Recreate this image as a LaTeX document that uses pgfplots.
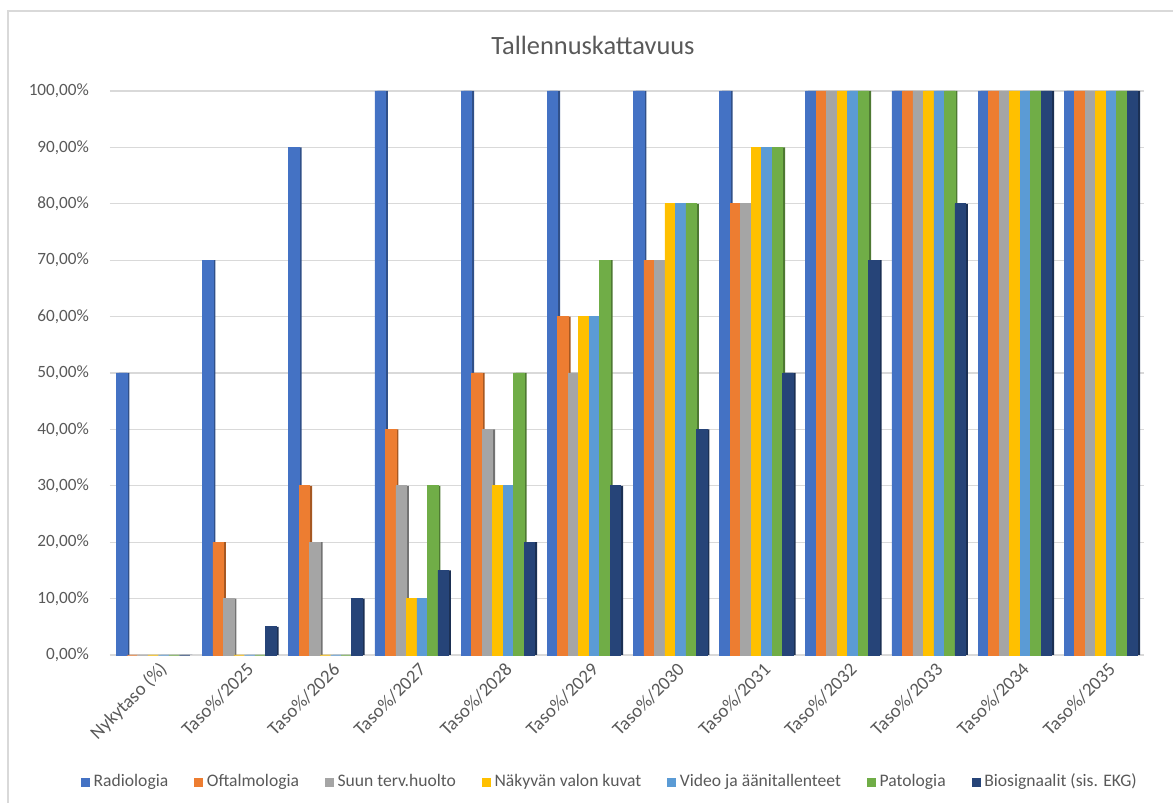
\documentclass[border=0pt]{standalone}
\usepackage{fontspec}
\setmainfont{Carlito}
\usepackage{pgfplots}
\usepackage{pgfplotstable}
\pgfplotsset{compat=1.18}
\definecolor{cRad}{HTML}{4472C4}
\definecolor{cOft}{HTML}{ED7D31}
\definecolor{cSuu}{HTML}{A5A5A5}
\definecolor{cNak}{HTML}{FFC000}
\definecolor{cVid}{HTML}{5B9BD5}
\definecolor{cPat}{HTML}{70AD47}
\definecolor{cBio}{HTML}{264478}
\definecolor{txt}{HTML}{595959}
\definecolor{grd}{HTML}{D9D9D9}
\pgfplotstableread{
x rad oft suun nak vid pat bio
0 50 0 0 0 0 0 0
1 70 20 10 0 0 0 5
2 90 30 20 0 0 0 10
3 100 40 30 10 10 30 15
4 100 50 40 30 30 50 20
5 100 60 50 60 60 70 30
6 100 70 70 80 80 80 40
7 100 80 80 90 90 90 50
8 100 100 100 100 100 100 70
9 100 100 100 100 100 100 80
10 100 100 100 100 100 100 100
11 100 100 100 100 100 100 100
}\data
\begin{document}
\begin{tikzpicture}
\path[use as bounding box] (-55pt,-74pt) rectangle (531.5pt,327.5pt);
\draw[grd, line width=0.8pt] (-51pt,-74pt) -- (-51pt,322pt) -- (531.5pt,322pt);
\node[font=\fontsize{13.2}{15}\selectfont, text=txt] at (241.5pt,305pt) {Tallennuskattavuus};
\begin{axis}[
  at={(0pt,0pt)}, anchor=south west,
  scale only axis, width=517pt, height=282pt,
  ymin=0, ymax=100, xmin=-0.5, xmax=11.5,
  axis line style={draw=none},
  major tick length=0pt,
  ymajorgrids, grid style={grd, line width=0.6pt},
  ytick={0,10,...,100},
  yticklabel={\pgfmathprintnumber[fixed,fixed zerofill,precision=2,use comma]{\tick}\%},
  /pgf/number format/assume math mode=true,
  yticklabel style={font=\fontsize{8.6}{10}\selectfont, text=txt, xshift=-7pt},
  xtick={0,...,11},
  xticklabels={Nykytaso (\%),Taso\%/2025,Taso\%/2026,Taso\%/2027,Taso\%/2028,Taso\%/2029,Taso\%/2030,Taso\%/2031,Taso\%/2032,Taso\%/2033,Taso\%/2034,Taso\%/2035},
  xticklabel style={font=\fontsize{9.4}{11}\selectfont, text=txt, rotate=45, anchor=east, inner sep=1pt, yshift=-8pt, xshift=1pt},
  ybar=0pt, bar width=5.25pt,
  clip=false,
  legend style={at={(0.4845,-0.225)}, anchor=center, draw=none, fill=none,
    font=\fontsize{8.8}{10}\selectfont, text=txt,
    /tikz/every even column/.append style={column sep=11pt}},
  legend columns=7,
  legend image code/.code={\fill[#1] (0pt,-2pt) rectangle (4pt,2pt);},
]
\addplot[fill=cRad!70!black, draw=none, bar shift=-14.5pt, forget plot] table[x=x,y=rad]{\data};
\addplot[fill=cRad, draw=cRad, line width=0.3pt, bar shift=-15.75pt] table[x=x,y=rad]{\data};
\addplot[fill=cOft!70!black, draw=none, bar shift=-9.25pt, forget plot] table[x=x,y=oft]{\data};
\addplot[fill=cOft, draw=cOft, line width=0.3pt, bar shift=-10.5pt] table[x=x,y=oft]{\data};
\addplot[fill=cSuu!70!black, draw=none, bar shift=-4pt, forget plot] table[x=x,y=suun]{\data};
\addplot[fill=cSuu, draw=cSuu, line width=0.3pt, bar shift=-5.25pt] table[x=x,y=suun]{\data};
\addplot[fill=cNak!80!black, draw=none, bar shift=1.25pt, forget plot] table[x=x,y=nak]{\data};
\addplot[fill=cNak, draw=cNak, line width=0.3pt, bar shift=0pt] table[x=x,y=nak]{\data};
\addplot[fill=cVid!70!black, draw=none, bar shift=6.5pt, forget plot] table[x=x,y=vid]{\data};
\addplot[fill=cVid, draw=cVid, line width=0.3pt, bar shift=5.25pt] table[x=x,y=vid]{\data};
\addplot[fill=cPat!70!black, draw=none, bar shift=11.75pt, forget plot] table[x=x,y=pat]{\data};
\addplot[fill=cPat, draw=cPat, line width=0.3pt, bar shift=10.5pt] table[x=x,y=pat]{\data};
\addplot[fill=cBio!70!black, draw=none, bar shift=17pt, forget plot] table[x=x,y=bio]{\data};
\addplot[fill=cBio, draw=cBio, line width=0.3pt, bar shift=15.75pt] table[x=x,y=bio]{\data};
\legend{Radiologia,Oftalmologia,Suun terv.huolto,Näkyvän valon kuvat,Video ja äänitallenteet,Patologia,Biosignaalit (sis. EKG)}
\end{axis}
\end{tikzpicture}
\end{document}
